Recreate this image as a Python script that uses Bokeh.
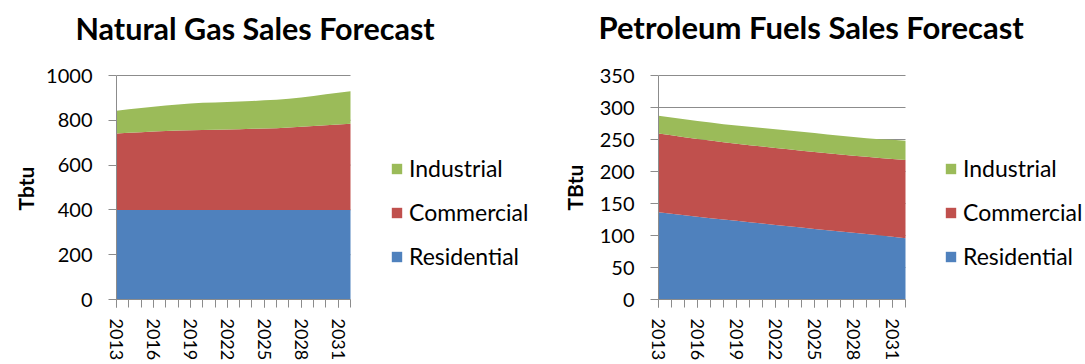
from bokeh.plotting import figure
from bokeh.models import (Range1d, FixedTicker, Legend, LegendItem,
                          ColumnDataSource, Title)
from bokeh.layouts import row
from bokeh.embed import file_html
from bokeh.resources import INLINE

# ---------------- data ----------------
years = list(range(2013, 2033))
label_years = [2013, 2016, 2019, 2022, 2025, 2028, 2031]
series_names = ["Residential", "Commercial", "Industrial"]
series_colors = ["#4F81BD", "#C0504D", "#9BBB59"]

ng_residential = [400] * 20
ng_commercial = [341, 344, 347, 350, 352, 354, 356, 357, 358, 359,
                 360, 362, 363, 365, 368, 371, 374, 378, 381, 385]
ng_industrial = [102, 105, 108, 110, 114, 117, 119, 121, 122, 123,
                 124, 124, 126, 127, 128, 131, 135, 138, 142, 145]
ng_yticks = [0, 200, 400, 600, 800, 1000]

pf_residential = [136.5, 134.0, 131.6, 129.3, 127.1, 125.0, 122.9, 120.8, 118.7, 116.6,
                  114.5, 112.4, 110.3, 108.3, 106.3, 104.3, 102.3, 100.2, 98.0, 95.8]
pf_commercial = [122.9, 122.5, 122.0, 121.6, 121.2, 120.8, 120.5, 120.3, 120.2, 120.2,
                 120.2, 120.2, 120.3, 120.3, 120.4, 120.5, 120.7, 121.0, 121.6, 122.2]
pf_industrial = [27.6, 28.0, 27.9, 28.1, 28.2, 28.2, 28.6, 28.9, 29.1, 29.2,
                 29.3, 29.4, 29.4, 29.4, 29.3, 29.2, 29.0, 29.3, 29.9, 30.0]
pf_yticks = [0, 50, 100, 150, 200, 250, 300, 350]

ng_title = "Natural Gas Sales Forecast"
pf_title = "Petroleum Fuels Sales Forecast"
ng_ylabel = "Tbtu"
pf_ylabel = "TBtu"

FONT = "Lato"
GRID = "#8c8c8c"
HEIGHT = 364
TOP = 47         # title strip above the plot frame
BOTTOM = 65      # space under the plot area for the year labels
PLOT_H = 224     # height of the data part of the plot area


def make_chart(title, ylabel, res, com, ind, yticks, width, border_left,
               plot_px, title_offset, legend_x, title_size, ytitle_standoff):
    # The frame spans to the right edge (legend beside the areas) and up to
    # the title strip; the data part is plot_px wide and PLOT_H high.
    frame_w = width - border_left
    frame_h = HEIGHT - TOP - BOTTOM
    x_end = years[0] + (years[-1] - years[0]) * frame_w / plot_px
    y_end = yticks[0] + (yticks[-1] - yticks[0]) * frame_h / PLOT_H
    p = figure(width=width, height=HEIGHT,
               x_range=Range1d(years[0], x_end),
               y_range=Range1d(yticks[0], y_end),
               output_backend="svg", toolbar_location=None,
               min_border_left=border_left, min_border_right=0,
               min_border_top=TOP, min_border_bottom=BOTTOM)
    p.outline_line_color = None
    p.background_fill_color = "white"
    p.border_fill_color = "white"
    p.xgrid.visible = False
    p.ygrid.visible = False

    # horizontal gridlines limited to the category span
    gsrc = ColumnDataSource(dict(x0=[years[0]] * len(yticks),
                                 x1=[years[-1]] * len(yticks), y=yticks))
    p.segment(x0="x0", x1="x1", y0="y", y1="y", source=gsrc,
              line_color=GRID, line_width=1, level="underlay")

    src = ColumnDataSource(dict(year=years, res=res, com=com, ind=ind))
    rs = p.varea_stack(["res", "com", "ind"], x="year", source=src,
                       color=series_colors)

    # chart title
    p.title.text = title
    p.title.text_font = FONT
    p.title.text_font_style = "bold"
    p.title.text_font_size = title_size
    p.title.text_color = "black"
    p.title.align = "left"
    p.title.offset = title_offset
    p.title.standoff = 4

    # x axis
    xa = p.xaxis[0]
    xa.bounds = (years[0], years[-1])
    xa.ticker = FixedTicker(ticks=label_years, minor_ticks=years)
    xa.major_label_orientation = "vertical"
    xa.major_label_text_font = FONT
    xa.major_label_text_font_size = "18px"
    xa.major_label_text_color = "black"
    xa.major_label_standoff = 11
    xa.major_tick_out = 8
    xa.major_tick_in = 0
    xa.minor_tick_out = 8
    xa.minor_tick_in = 0
    xa.axis_line_color = GRID
    xa.major_tick_line_color = GRID
    xa.minor_tick_line_color = GRID

    # y axis
    ya = p.yaxis[0]
    ya.bounds = (yticks[0], yticks[-1])
    ya.ticker = FixedTicker(ticks=yticks)
    ya.major_label_text_font = FONT
    ya.major_label_text_font_size = "20px"
    ya.major_label_text_color = "black"
    ya.major_label_standoff = 16
    ya.major_tick_out = 8
    ya.major_tick_in = 0
    ya.minor_tick_line_color = None
    ya.axis_line_color = GRID
    ya.major_tick_line_color = GRID

    # y axis title, centred on the data part of the frame
    p.add_layout(Title(text=ylabel, text_font=FONT, text_font_style="bold",
                       text_font_size="21px", text_color="black",
                       align="left", offset=89, standoff=ytitle_standoff),
                 "left")

    legend = Legend(items=[LegendItem(label=series_names[i], renderers=[rs[i]])
                           for i in (2, 1, 0)],
                    location=(legend_x, 29), orientation="vertical",
                    padding=0, margin=0, spacing=16,
                    glyph_width=13, glyph_height=13, label_height=22,
                    label_standoff=6, label_text_font=FONT,
                    label_text_font_size="23px", label_text_color="black",
                    border_line_color=None, background_fill_alpha=0)
    p.add_layout(legend)
    return p


p1 = make_chart(ng_title, ng_ylabel, ng_residential, ng_commercial, ng_industrial,
                ng_yticks, 545, 116, 234, -41, 274, "30.5px", 12)
p2 = make_chart(pf_title, pf_ylabel, pf_residential, pf_commercial, pf_industrial,
                pf_yticks, 540, 113, 247, -60, 286, "31px", 20)

layout = row(p1, p2)
open("out.html", "w").write(file_html(layout, INLINE))
